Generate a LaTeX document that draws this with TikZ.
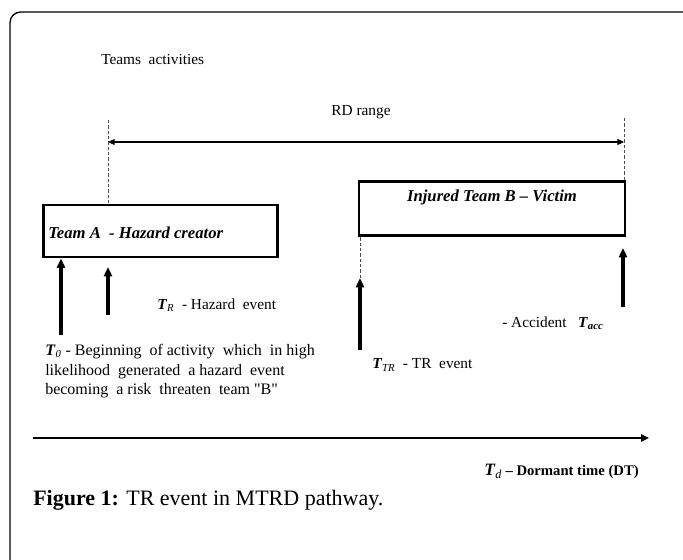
\documentclass[tikz,border=0pt]{standalone}
\usepackage{fontspec}
\setmainfont{Liberation Serif}
\usepackage{tikz}
\usetikzlibrary{arrows.meta}
\usetikzlibrary{calc}
\tikzstyle{teambox}=[draw=black,line width=2.2pt,inner sep=0pt]
\tikzstyle{lbl}=[inner sep=0pt,font=\fontsize{11.5}{14.6}\selectfont]
\tikzstyle{boxlbl}=[inner sep=0pt,font=\fontsize{12.5}{14}\selectfont\bfseries\itshape]
\tikzstyle{event}=[line width=2.3pt,-{Triangle[width=6pt,length=7pt]}]
\tikzstyle{guide}=[dashed,dash pattern=on 2.5pt off 1.5pt,line width=0.5pt,black!70]
\tikzstyle{rdspan}=[line width=0.8pt,{Triangle[width=4.5pt,length=5pt]}-{Triangle[width=4.5pt,length=5pt]}]
\tikzstyle{dtaxis}=[line width=1.5pt,-{Triangle[width=5.5pt,length=6pt]}]
\newcommand{\bT}{\textbf{\textit{T}}}

\begin{document}
\begin{tikzpicture}[x=0.75pt,y=-0.75pt]
      \useasboundingbox (0,0) rectangle (683,560);
      \draw[line width=1pt,rounded corners=8pt] (683,12) -- (10,12) -- (10,560);

      % the two teams
      \node[teambox,minimum width=176pt,minimum height=39pt] (teamA) at (160.5,231) {};
      \node[teambox,minimum width=199.5pt,minimum height=40pt] (teamB) at (492,208.5) {};
      \node[boxlbl,anchor=west] (creator) at (48,233) {Team A\ \ - Hazard creator};
      \node[boxlbl] (victim) at (492,197) {Injured Team B -- Victim};

      \node[lbl,anchor=west] (teams) at (101,60) {Teams\ \ activities};
      \node[lbl] (rd) at (361,112) {RD range};

      % RD range
      \coordinate (gA) at (108,120);
      \coordinate (gB) at (624,118);
      \draw[guide] (gA) -- (gA |- teamA.north);
      \draw[guide] (gB) -- (gB |- teamB.north);
      \coordinate (rdL) at (108,142);
      \coordinate (rdR) at (624,142);
      \draw[rdspan] (rdL) -- (rdR);

      % events
      \coordinate (t0) at (61,335);
      \draw[event] (t0) -- (t0 |- teamA.south);
      \coordinate (tR) at (108,315);
      \coordinate (tRtip) at (108,267);
      \draw[event] (tR) -- (tRtip);
      \coordinate (tTR) at (360,350);
      \coordinate (tTRtip) at (360,278);
      \draw[event] (tTR) -- (tTRtip);
      \draw[guide] (tTRtip) -- (tTRtip |- teamB.south);
      \coordinate (tacc) at (623,307);
      \coordinate (tacctip) at (623,248);
      \draw[event] (tacc) -- (tacctip);

      \node[lbl,anchor=west] (hazard) at (157,305) {\bT\textsubscript{\textit{R}}\ \ - Hazard\ \ event};
      \node[lbl,anchor=north west,align=left,font=\fontsize{12}{14.8}\selectfont] (begin) at (45,344) {\bT\textsubscript{\textit{0}} - Beginning\ \ of activity\ \ which\ \ in high\\likelihood\ \ generated\ \ a hazard\ \ event\\becoming\ \ a risk\ \ threaten\ \ team \textquotedbl B\textquotedbl};
      \node[lbl,anchor=west] (accident) at (502,323) {- Accident\ \ \ \bT\textsubscript{\textbf{\textit{acc}}}};
      \node[lbl,anchor=west] (trevent) at (372,365) {\bT\textsubscript{\textit{TR}}\ \ - TR\ \ event};

      % dormant time
      \coordinate (axL) at (33,438);
      \coordinate (axR) at (649,438);
      \draw[dtaxis] (axL) -- (axR);
      \node[anchor=east,inner sep=0pt] (dormant) at (639,471) {{\fontsize{13}{14}\selectfont\bT\textsubscript{\textit{d}}} {\fontsize{11}{12}\selectfont\bfseries -- Dormant time (DT)}};

      \node[anchor=west,inner sep=0pt,font=\fontsize{16.5}{18}\selectfont] (caption) at (33,500) {\textbf{Figure 1:} TR event in MTRD pathway.};
\end{tikzpicture}
\end{document}
